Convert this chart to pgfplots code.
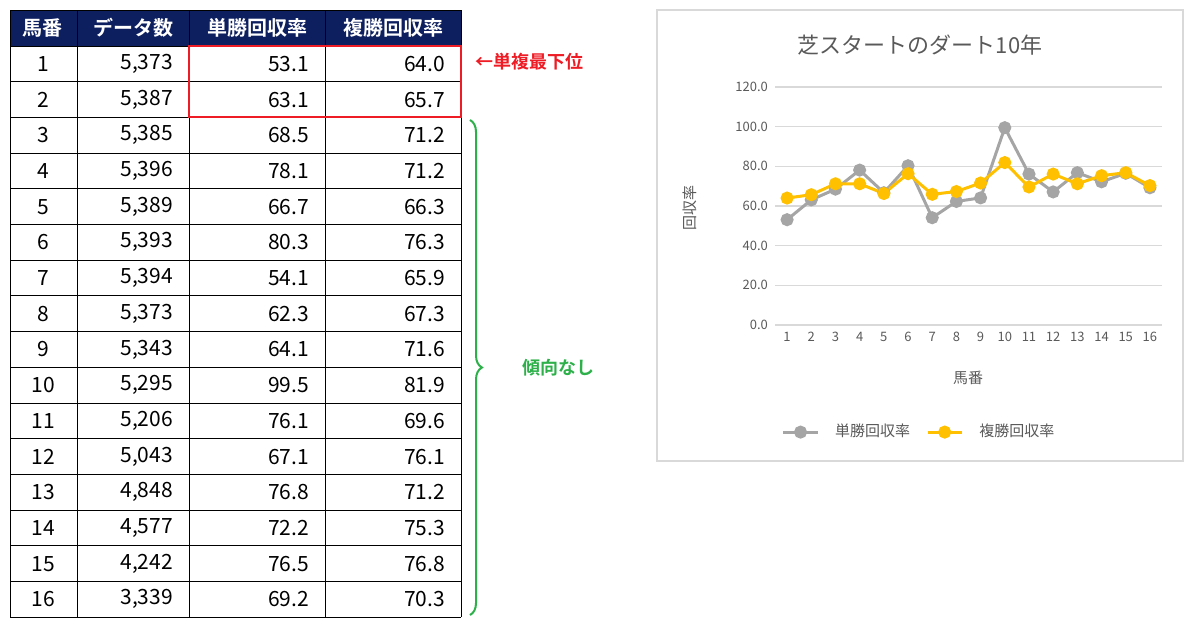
\documentclass[border=0pt]{standalone}
\usepackage{fontspec}
\setmainfont{Noto Sans CJK JP}[BoldFont={Noto Sans CJK JP Bold}]
\usepackage{pgfplots}
\pgfplotsset{compat=1.18}
\usetikzlibrary{decorations.pathreplacing}
\definecolor{navy}{HTML}{0D1F5E}
\definecolor{tgray}{HTML}{595959}
\definecolor{sgray}{HTML}{A5A5A5}
\definecolor{sgold}{HTML}{FFC000}
\definecolor{gridc}{HTML}{D9D9D9}
\definecolor{myred}{HTML}{EE1C25}
\definecolor{mygreen}{HTML}{2DB04A}
\begin{document}
\begin{tikzpicture}[x=0.5pt,y=0.5pt]
\path (0,0) rectangle (1200,629);
% table
\fill[navy] (10,583) rectangle (461,619);
\foreach \k in {0,...,16}{\draw[black,line width=0.5pt] (10,583-35.7*\k) -- (461,583-35.7*\k);}
\draw[black,line width=0.5pt] (10,619)--(461,619);
\foreach \xx in {10,77,189,325,461}{\draw[black,line width=0.5pt] (\xx,619) -- (\xx,11.8);}
\foreach \xx/\t in {43/馬番,133/データ数,257/単勝回収率,393/複勝回収率}{\node[white,font=\bfseries\fontsize{10}{12}\selectfont] at (\xx,601) {\t};}
\foreach \i/\n/\a/\b in {1/{5,373}/53.1/64.0,2/{5,387}/63.1/65.7,3/{5,385}/68.5/71.2,4/{5,396}/78.1/71.2,5/{5,389}/66.7/66.3,6/{5,393}/80.3/76.3,7/{5,394}/54.1/65.9,8/{5,373}/62.3/67.3,9/{5,343}/64.1/71.6,10/{5,295}/99.5/81.9,11/{5,206}/76.1/69.6,12/{5,043}/67.1/76.1,13/{4,848}/76.8/71.2,14/{4,577}/72.2/75.3,15/{4,242}/76.5/76.8,16/{3,339}/69.2/70.3}{
 \pgfmathsetmacro\yy{583-35.7*(\i-0.5)}
 \node[font=\fontsize{10.5}{12}\selectfont] at (43,\yy) {\i};
 \node[anchor=east,font=\fontsize{10.5}{12}\selectfont] at (180,\yy) {\n};
 \node[anchor=east,font=\fontsize{10.5}{12}\selectfont] at (316,\yy) {\a};
 \node[anchor=east,font=\fontsize{10.5}{12}\selectfont] at (452,\yy) {\b};
}
\draw[myred,line width=1pt] (189,583) rectangle (461,511.6);
\node[anchor=west,myred,font=\bfseries\fontsize{9}{11}\selectfont] at (468,567) {←単複最下位};
\draw[mygreen,line width=1pt,decorate,decoration={brace,amplitude=6pt}] (470,509) -- (470,14);
\node[anchor=west,mygreen,font=\bfseries\fontsize{9}{11}\selectfont] at (515,261) {傾向なし};
% chart
\draw[gridc,line width=0.6pt] (657,168) rectangle (1183,619);
\node[tgray,font=\fontsize{11}{13}\selectfont] at (920,584) {芝スタートのダート10年};
\node[tgray,rotate=90,font=\fontsize{7.5}{9}\selectfont] at (690,421) {回収率};
\node[tgray,font=\fontsize{7.5}{9}\selectfont] at (968,251) {馬番};
\begin{axis}[at={(387.5pt,152pt)},anchor=south west,scale only axis,
 width=193.5pt,height=119pt,xmin=0.5,xmax=16.5,ymin=0,ymax=120,
 xtick={1,...,16},ytick={0,20,...,120},
 yticklabel style={/pgf/number format/.cd,fixed,fixed zerofill,precision=1},
 /pgf/number format/assume math mode=true,
 tick label style={tgray,font=\fontsize{6.5}{8}\selectfont},
 major tick length=0pt,axis line style={draw=none},
 ymajorgrids,grid style={gridc,line width=0.6pt},
 legend style={at={(0.375,-0.45)},anchor=center,draw=none,legend columns=2,
  font=\fontsize{7.5}{9}\selectfont,text=tgray,column sep=6pt},
]
\addplot[sgray,line width=1.5pt,mark=*,mark size=2.5pt] coordinates {(1,53.1)(2,63.1)(3,68.5)(4,78.1)(5,66.7)(6,80.3)(7,54.1)(8,62.3)(9,64.1)(10,99.5)(11,76.1)(12,67.1)(13,76.8)(14,72.2)(15,76.5)(16,69.2)};
\addlegendentry{単勝回収率}
\addplot[sgold,line width=1.5pt,mark=*,mark size=2.5pt] coordinates {(1,64.0)(2,65.7)(3,71.2)(4,71.2)(5,66.3)(6,76.3)(7,65.9)(8,67.3)(9,71.6)(10,81.9)(11,69.6)(12,76.1)(13,71.2)(14,75.3)(15,76.8)(16,70.3)};
\addlegendentry{複勝回収率}
\end{axis}
\end{tikzpicture}
\end{document}
